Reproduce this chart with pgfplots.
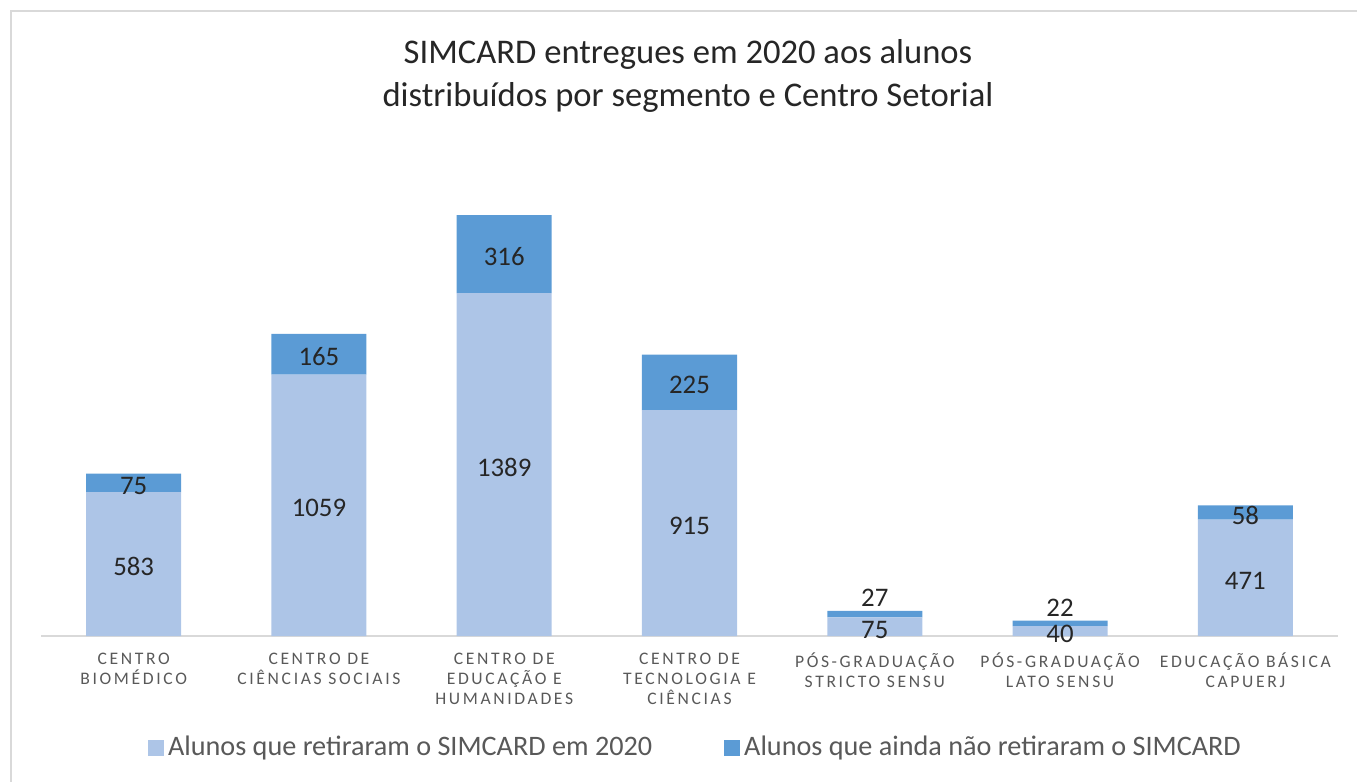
\documentclass[border=0pt]{standalone}
\usepackage{fontspec}
\setmainfont{Carlito}
\newfontfamily\spaced[LetterSpace=15]{Carlito}
\usepackage{pgfplots}
\usepackage{pgfplotstable}
\pgfplotsset{compat=1.18}
\definecolor{lightbar}{HTML}{ADC5E7}
\definecolor{darkbar}{HTML}{5B9BD5}
\definecolor{axgray}{HTML}{D9D9D9}
\definecolor{txtgray}{HTML}{595959}
\definecolor{numcol}{HTML}{262626}

\pgfplotstableread{
x a b bs
0 583 75 0
1 1059 165 0
2 1389 316 0
3 915 225 0
4 75 27 9.5
5 40 22 9.4
6 471 58 0
}\data

\begin{document}
\begin{tikzpicture}
\useasboundingbox (0,0) rectangle (678.5pt,-391pt);
\draw[axgray, line width=1pt] (5.5pt,-420pt) -- (5.5pt,-5.5pt) -- (700pt,-5.5pt);
\node[anchor=base, font=\fontsize{17.3}{20}\selectfont, text=numcol, inner sep=0pt] at (344pt,-31.5pt) {SIMCARD entregues em 2020 aos alunos};
\node[anchor=base, font=\fontsize{17.3}{20}\selectfont, text=numcol, inner sep=0pt] at (344pt,-53pt) {distribuídos por segmento e Centro Setorial};
\begin{axis}[
  at={(20.5pt,-318pt)}, anchor=south west,
  scale only axis, width=648.5pt, height=222.225pt,
  xmin=-0.5, xmax=6.5, ymin=0, ymax=1800,
  ybar stacked, bar width=47.5pt,
  axis y line=none, axis x line*=bottom,
  x axis line style={axgray, line width=1pt},
  xtick={0,1,2,3,4,5,6},
  xticklabels={{CENTRO\\BIOMÉDICO},{CENTRO DE\\CIÊNCIAS SOCIAIS},{CENTRO DE\\EDUCAÇÃO E\\HUMANIDADES},{CENTRO DE\\TECNOLOGIA E\\CIÊNCIAS},{PÓS-GRADUAÇÃO\\STRICTO SENSU},{PÓS-GRADUAÇÃO\\LATO SENSU},{EDUCAÇÃO BÁSICA\\CAPUERJ}},
  major tick length=0pt,
  xticklabel style={align=center, font=\spaced\fontsize{8.8}{10}\selectfont, text=txtgray, yshift=-4.8pt},
  clip=false,
  point meta=explicit symbolic,
  nodes near coords,
  nodes near coords style={font=\fontsize{13.4}{15}\selectfont, text=numcol, anchor=center, inner sep=0pt, yshift=-1.4pt},
  legend style={at={(0.5054,-0.25)}, anchor=center, draw=none, legend columns=2,
    font=\fontsize{14.1}{16}\selectfont, text=txtgray,
    /tikz/every even column/.append style={column sep=34pt}},
  legend image code/.code={\fill[#1] (0pt,-4.5pt) rectangle (8pt,3.5pt);},
  legend cell align=left,
]
\addplot+[fill=lightbar, draw=none]
  table[x=x, y=a, meta=a] {\data};
\addlegendentry{Alunos que retiraram o SIMCARD em 2020}
\addplot+[fill=darkbar, draw=none,
  visualization depends on={\thisrow{bs} \as \vs},
  every node near coord/.append style={yshift={\vs*1pt}}]
  table[x=x, y=b, meta=b] {\data};
\addlegendentry{Alunos que ainda não retiraram o SIMCARD}
\end{axis}
\end{tikzpicture}
\end{document}
